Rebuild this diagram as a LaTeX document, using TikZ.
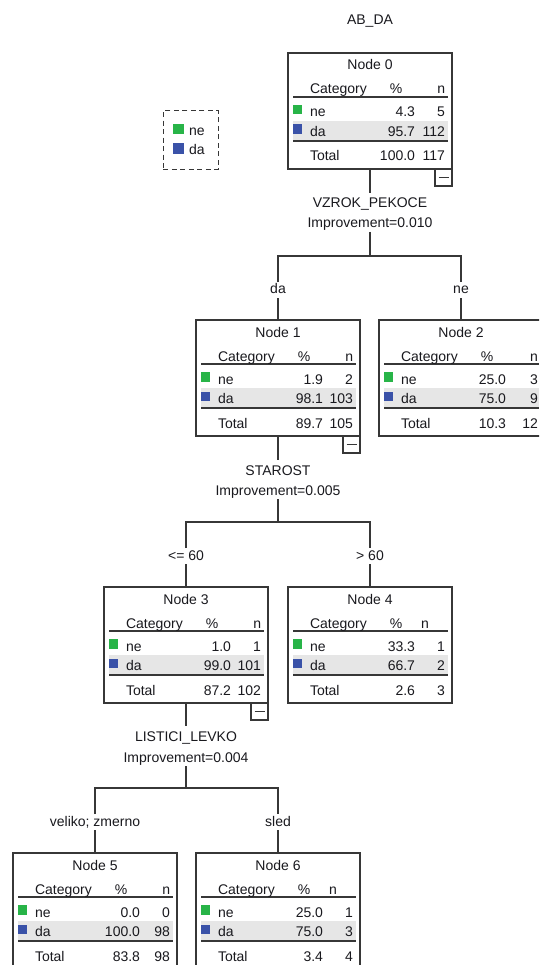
\documentclass[tikz,border=0pt]{standalone}
\usepackage{fontspec}
\setmainfont{Liberation Sans}
\newcommand\tfont{\fontsize{14}{16}\selectfont}
\definecolor{txt}{RGB}{25,25,30}
\definecolor{frame}{RGB}{55,55,55}
\definecolor{gcol}{RGB}{40,180,72}
\definecolor{bcol}{RGB}{58,82,168}
\definecolor{shadec}{RGB}{230,230,230}
\tikzset{
  every node/.style={font=\tfont, text=txt, inner sep=0pt, outer sep=0pt},
  lt/.style={anchor=base west},
  rt/.style={anchor=base east},
  ct/.style={anchor=base},
  tbox/.style={draw=frame, line width=1.3pt, minimum width=164pt, minimum height=116pt, anchor=north west},
  cbox/.style={draw=frame, line width=1.1pt, minimum width=17pt, minimum height=17pt, anchor=north west},
  rulethin/.style={draw=frame, line width=1.4pt},
  rulethick/.style={draw=frame, line width=2pt},
  edge/.style={draw=frame, line width=1.3pt},
  svar/.style={anchor=base, text height=10pt, text depth=3pt, inner ysep=5pt},
  simp/.style={anchor=base, text height=10pt, text depth=3pt, inner ysep=1pt},
  blab/.style={anchor=base, text height=10pt, text depth=2pt, inner ysep=2pt},
}
% frame and static texts of a tree box
\newcommand\tframe[2]{%
  \node[tbox] (#1) at (0,0) {};
  \fill[shadec] (5,68) rectangle (160,87);
  \draw[rulethin] (5,44) -- (160,44);
  \draw[rulethick] (5,88) -- (160,88);
  \fill[gcol] (4.8,52) rectangle (14.3,61.5);
  \fill[bcol] (4.8,71.5) rectangle (14.3,81);
  \node[ct] (#1-t) at (82,17) {Node #2};
  \node[lt] (#1-h) at (22,41) {Category};
  \node[ct] (#1-p) at (108,41) {\%};
  \node[lt] (#1-a) at (22,64) {ne};
  \node[lt] (#1-b) at (22,83.5) {da};
  \node[lt] (#1-c) at (22,108) {Total};
}
% values: id, n column right x, ne%, ne n, da%, da n, tot%, tot n, header-n centre x
\newcommand\tvals[9]{%
  \node[ct] (#1-nh) at (#9,41) {n};
  \node[rt] (#1-a1) at (127,64) {#3};
  \node[rt] (#1-a2) at (#2,64) {#4};
  \node[rt] (#1-b1) at (127,83.5) {#5};
  \node[rt] (#1-b2) at (#2,83.5) {#6};
  \node[rt] (#1-c1) at (127,108) {#7};
  \node[rt] (#1-c2) at (#2,108) {#8};
}
\newcommand\tcollapse[1]{%
  \node[cbox] (#1-x) at (147,116) {};
  \draw[frame, line width=1.1pt] (#1-x.center) ++(-5,0) -- ++(10,0);
}
\begin{document}
\begin{tikzpicture}[x=1pt, y=-1pt]
\useasboundingbox (0,0) rectangle (539,965);
\fill[white] (0,0) rectangle (539,965);
\clip (0,0) rectangle (539,965);

% title
\node[ct] (title) at (370,25) {AB\_DA};

% legend
\node[draw=frame, line width=1.2pt, dash pattern=on 5pt off 3.5pt, minimum width=55pt, minimum height=58.5pt, anchor=north west] (legend) at (163.3,110.7) {};
\fill[gcol] (173.3,124) rectangle (184,134.3);
\fill[bcol] (173.3,143.3) rectangle (184,154);
\node[lt] (leg-ne) at (189,136) {ne};
\node[lt] (leg-da) at (189,155) {da};

% Node 0
\begin{scope}[shift={(288,53)}]
  \tframe{n0}{0}
  \tvals{n0}{157}{4.3}{5}{95.7}{112}{100.0}{117}{153.3}
  \tcollapse{n0}
\end{scope}
% Node 1
\begin{scope}[shift={(196,320)}]
  \tframe{n1}{1}
  \tvals{n1}{157}{1.9}{2}{98.1}{103}{89.7}{105}{153.3}
  \tcollapse{n1}
\end{scope}
% Node 2
\begin{scope}[shift={(379,320)}]
  \tframe{n2}{2}
  \tvals{n2}{159}{25.0}{3}{75.0}{9}{10.3}{12}{155}
\end{scope}
% Node 3
\begin{scope}[shift={(104,587)}]
  \tframe{n3}{3}
  \tvals{n3}{157}{1.0}{1}{99.0}{101}{87.2}{102}{153.3}
  \tcollapse{n3}
\end{scope}
% Node 4
\begin{scope}[shift={(288,587)}]
  \tframe{n4}{4}
  \tvals{n4}{157}{33.3}{1}{66.7}{2}{2.6}{3}{137}
\end{scope}
% Node 5
\begin{scope}[shift={(13,853)}]
  \tframe{n5}{5}
  \tvals{n5}{157}{0.0}{0}{100.0}{98}{83.8}{98}{153.3}
\end{scope}
% Node 6
\begin{scope}[shift={(196,853)}]
  \tframe{n6}{6}
  \tvals{n6}{157}{25.0}{1}{75.0}{3}{3.4}{4}{137}
\end{scope}

% split of node 0
\node[svar] (v0) at (370,208) {VZROK\_PEKOCE};
\node[simp] (i0) at (370,228) {Improvement=0.010};
\coordinate (j0) at (370,256);
\node[blab] (b1) at (278,294) {da};
\node[blab] (b2) at (461,294) {ne};
\draw[edge] (n0.south) -- (v0.north);
\draw[edge] (i0.south) -- (j0);
\draw[edge] (b1.north) |- (j0) -| (b2.north);
\draw[edge] (b1.south) -- (n1.north);
\draw[edge] (b2.south) -- (n2.north);

% split of node 1
\node[svar] (v1) at (278,475) {STAROST};
\node[simp] (i1) at (278,495) {Improvement=0.005};
\coordinate (j1) at (278,522);
\node[blab] (b3) at (186,560) {<= 60};
\node[blab] (b4) at (370,560) {> 60};
\draw[edge] (n1.south) -- (v1.north);
\draw[edge] (i1.south) -- (j1);
\draw[edge] (b3.north) |- (j1) -| (b4.north);
\draw[edge] (b3.south) -- (n3.north);
\draw[edge] (b4.south) -- (n4.north);

% split of node 3
\node[svar] (v3) at (186,741) {LISTICI\_LEVKO};
\node[simp] (i3) at (186,762) {Improvement=0.004};
\coordinate (j3) at (186,788);
\node[blab] (b5) at (95,826) {veliko; zmerno};
\node[blab] (b6) at (278,826) {sled};
\draw[edge] (n3.south) -- (v3.north);
\draw[edge] (i3.south) -- (j3);
\draw[edge] (b5.north) |- (j3) -| (b6.north);
\draw[edge] (b5.south) -- (n5.north);
\draw[edge] (b6.south) -- (n6.north);
\end{tikzpicture}
\end{document}
